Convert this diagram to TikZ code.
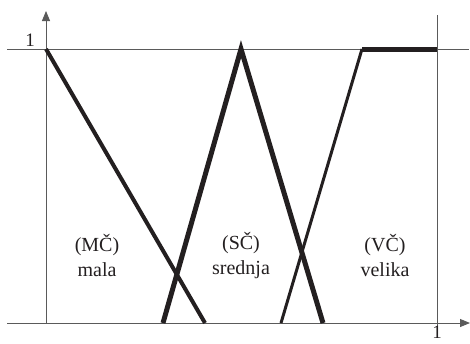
\documentclass[tikz,border=0pt]{standalone}
\usepackage{fontspec}
\setmainfont{Liberation Serif}
\usetikzlibrary{arrows.meta}
\definecolor{ink}{HTML}{231F20}
\definecolor{axisgray}{HTML}{5A5A5A}

\begin{document}
\begin{tikzpicture}[x=1pt, y=-1pt,
    axis/.style={draw=axisgray, line width=0.9pt, -{Triangle[length=10pt, width=8pt]}},
    guide/.style={draw=axisgray, line width=0.9pt},
    member/.style={draw=ink, line width=4pt},
    tick/.style={font=\fontsize{19}{23}\selectfont, text=ink, inner sep=0pt},
    lbl/.style={font=\fontsize{20}{25}\selectfont, text=ink, align=center}]
            \useasboundingbox (0,0) rectangle (470,343);

            % Axes
            \coordinate (o) at (46,323);
            \coordinate (ystart) at (7,323);
            \coordinate (ytip) at (46,11);
            \coordinate (xtip) at (470,323);
            \draw[axis] (ystart) -- (xtip);
            \draw[axis] (o) -- (ytip);

            % Guide lines at 1
            \coordinate (top0) at (7,49);
            \coordinate (top1) at (469,49);
            \coordinate (rtop) at (437,15);
            \coordinate (rbot) at (437,327);
            \draw[guide] (top0) -- (top1);
            \draw[guide] (rtop) -- (rbot);

            \node[tick] (oney) at (30,40) {1};
            \node[tick, anchor=south] (onex) at (437,339) {1};

            % Points of the membership functions
            \coordinate (m1) at (46,49);
            \coordinate (m2) at (205,323);
            \coordinate (s1) at (163,323);
            \coordinate (s2) at (241,49);
            \coordinate (s3) at (323,323);
            \coordinate (v1) at (281,323);
            \coordinate (v2) at (362,49);
            \coordinate (v3) at (437,49);

            % mala
            \draw[member] (m1) -- (m2);
            % srednja
            \draw[member, line width=5pt] (s1) -- (s2) -- (s3);
            % velika
            \draw[member, line width=3pt] (v1) -- (v2);
            \draw[member, line width=5pt] (v2) -- (v3);

            % Labels
            \node[lbl] (mc) at (97,256) {(MČ)\\mala};
            \node[lbl] (sc) at (241,256) {(SČ)\\srednja};
            \node[lbl] (vc) at (385,256) {(VČ)\\velika};

        \end{tikzpicture}
\end{document}
